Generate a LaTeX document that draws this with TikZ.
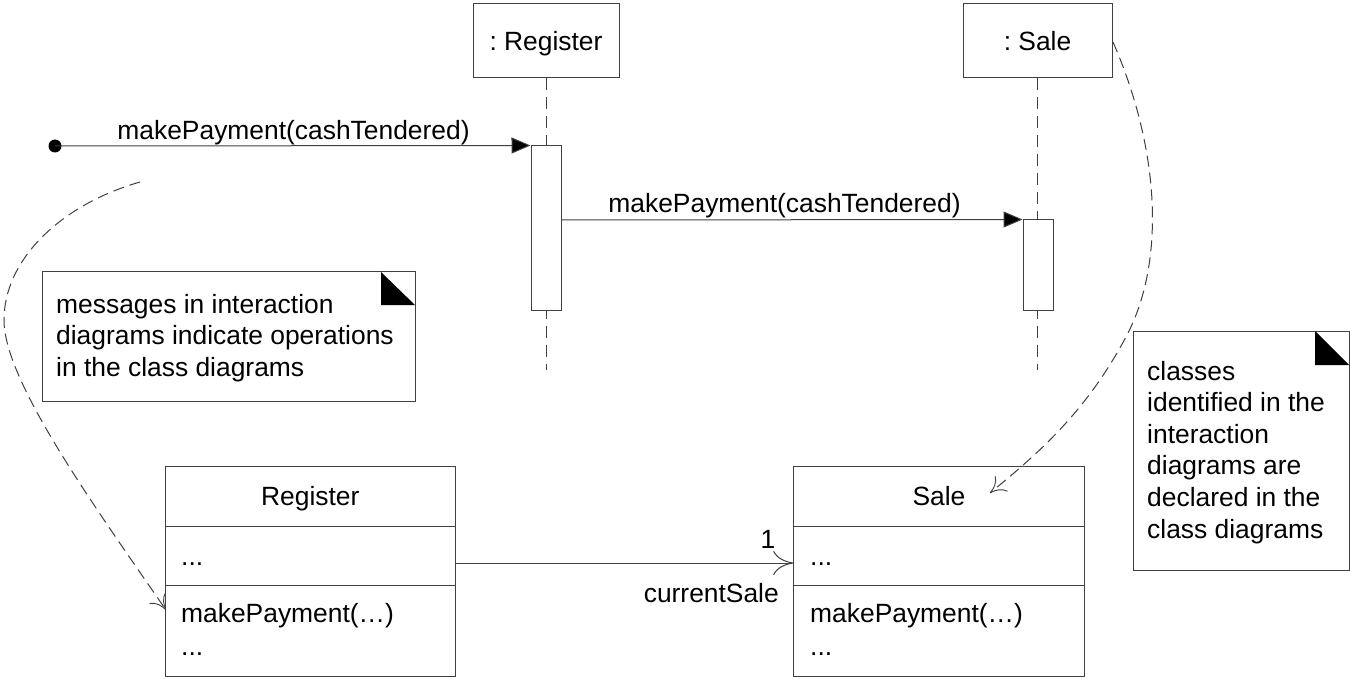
\documentclass[tikz,border=0pt]{standalone}
\usepackage{fontspec}
\setmainfont{Liberation Sans}
\usetikzlibrary{arrows.meta}
\tikzset{
  ln/.style={draw=black!75, line width=1pt},
  objbox/.style={ln, fill=white, rectangle, inner sep=0pt, minimum width=146pt, minimum height=74pt},
  actbox/.style={ln, fill=white, rectangle, inner sep=0pt, minimum width=30pt},
  classbox/.style={ln, fill=white, rectangle, inner sep=0pt, minimum width=290.5pt, minimum height=209.5pt},
  notebox/.style={ln, fill=white, rectangle, inner sep=0pt},
  lifeline/.style={ln, dash pattern=on 12pt off 7pt},
  msgline/.style={ln, -{Triangle[length=19pt,width=16pt,fill=black]}},
  assoc/.style={ln, -{Computer Modern Rightarrow[length=20pt,width=24pt,line width=1pt]}},
  depline/.style={ln, dash pattern=on 11pt off 6pt, -{Computer Modern Rightarrow[length=15pt,width=20pt,line width=0.9pt]}},
  txt/.style={inner sep=0pt, anchor=base, text=black},
  ltxt/.style={inner sep=0pt, anchor=base west, text=black},
  rtxt/.style={inner sep=0pt, anchor=base east, text=black},
  startdot/.style={circle, fill=black, inner sep=0pt, minimum size=13pt},
}
\frenchspacing
\begin{document}
\begin{tikzpicture}[x=1pt,y=-1pt,font=\fontsize{26.4}{31.6}\selectfont]
\useasboundingbox[fill=white] (0,0) rectangle (1350,679);

% ---- lifelines (drawn first) ----
\coordinate (regend) at (546,370);
\coordinate (saleend) at (1037.5,370);
\node[objbox] (regobj) at (546,41) {};
\node[objbox, minimum width=149pt] (saleobj) at (1037.5,41) {};
\draw[lifeline] (regobj.south) -- (regend);
\draw[lifeline] (saleobj.south) -- (saleend);
\node[txt] (regobjt) at (546,50.5) {: Register};
\node[txt] (saleobjt) at (1037.5,50.5) {: Sale};

% ---- activations ----
\node[actbox, minimum height=164pt] (regact) at (546,228) {};
\node[actbox, minimum height=90pt] (saleact) at (1038,265) {};

% ---- messages ----
\node[startdot] (start) at (55,146) {};
\draw[msgline] (start.center) -- (regact.north west);
\node[txt] (m1) at (293.5,140) {makePayment(cashTendered)};
\coordinate (m2s) at (561,220);
\draw[msgline] (m2s) -- (saleact.north west);
\node[txt] (m2) at (784.5,213) {makePayment(cashTendered)};

% ---- note 1 ----
\node[notebox, minimum width=373pt, minimum height=129pt] (note1) at (228.5,336.5) {};
\fill[black] (381,272) -- (381,305) -- (415,305) -- cycle;
\node[ltxt] (n1a) at (56,313) {messages in interaction};
\node[ltxt] (n1b) at (56,344.6) {diagrams indicate operations};
\node[ltxt] (n1c) at (56,376.2) {in the class diagrams};

% ---- note 2 ----
\node[notebox, minimum width=216pt, minimum height=239pt] (note2) at (1241,450.5) {};
\fill[black] (1315,331) -- (1315,365) -- (1349,365) -- cycle;
\node[ltxt] (n2a) at (1147,380) {classes};
\node[ltxt] (n2b) at (1147,411.6) {identified in the};
\node[ltxt] (n2c) at (1147,443.2) {interaction};
\node[ltxt] (n2d) at (1147,474.8) {diagrams are};
\node[ltxt] (n2e) at (1147,506.4) {declared in the};
\node[ltxt] (n2f) at (1147,538) {class diagrams};

% ---- class Register ----
\node[classbox] (regc) at (310.25,571.25) {};
\draw[ln] (165,526) -- (455.5,526);
\draw[ln] (165,585.3) -- (455.5,585.3);
\node[txt] (regcn) at (310.25,505) {Register};
\node[ltxt] (regca) at (181,565) {...};
\node[ltxt] (regco) at (181,622) {makePayment(…)};
\node[ltxt] (regcd) at (181,655) {...};

% ---- class Sale ----
\node[classbox] (salec) at (939,571.25) {};
\draw[ln] (793.75,526) -- (1084.25,526);
\draw[ln] (793.75,585.3) -- (1084.25,585.3);
\node[txt] (salecn) at (939,505) {Sale};
\node[ltxt] (saleca) at (810,565) {...};
\node[ltxt] (saleco) at (810,622) {makePayment(…)};
\node[ltxt] (salecd) at (810,655) {...};

% ---- association ----
\draw[assoc] (regc.east |- 0,563) -- (salec.west |- 0,563);
\node[txt] (mult) at (768,548) {1};
\node[rtxt] (role) at (779,602) {currentSale};

% ---- dependency curves ----
\coordinate (c1s) at (140,182);
\coordinate (c1e) at (166,610);
\draw[depline] (c1s) .. controls (60,205) and (4,260) .. (4,320)
   .. controls (4,380) and (90,500) .. (c1e);
\coordinate (c2s) at (1113,42);
\coordinate (c2e) at (990,493);
\draw[depline] (c2s) .. controls (1160,150) and (1165,260) .. (1128,333)
   .. controls (1088,410) and (1040,452) .. (c2e);
\end{tikzpicture}
\end{document}
